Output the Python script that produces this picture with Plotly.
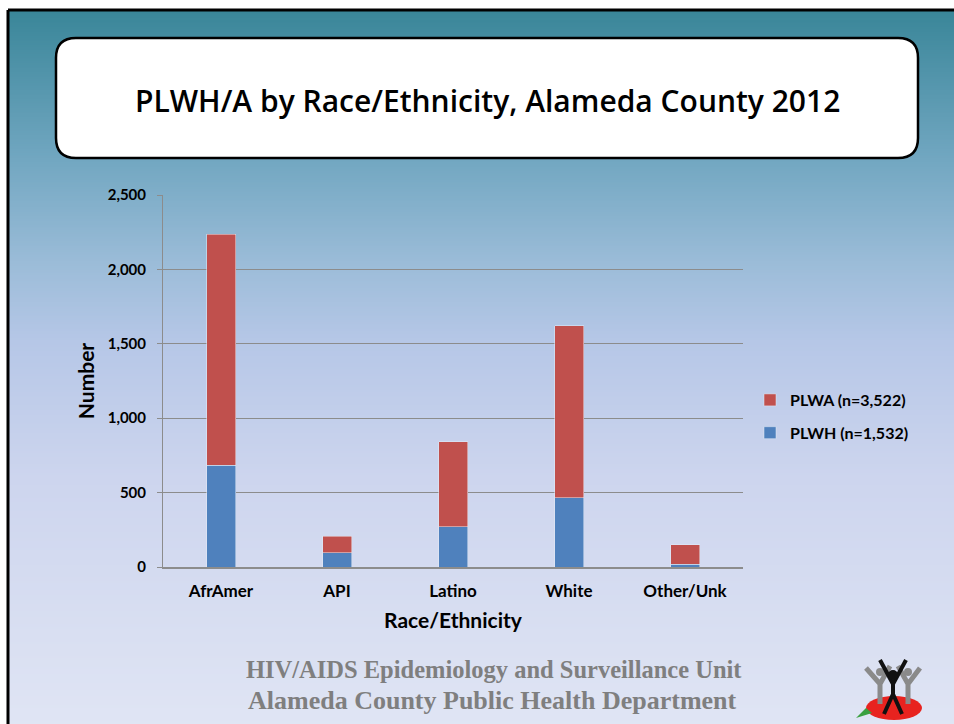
import zlib, struct, base64
import plotly.graph_objects as go

categories = ["AfrAmer", "API", "Latino", "White", "Other/Unk"]
plwh = [683, 95, 270, 464, 20]
plwa = [1552, 111, 572, 1159, 128]
plwh_name = "PLWH (n=1,532)"
plwa_name = "PLWA (n=3,522)"
y_ticks = [0, 500, 1000, 1500, 2000, 2500]

W, H = 954, 724
L, R, T, B = 163, 743, 195, 567

def px(x):
    return (x - L) / (R - L)

def py(y):
    return (B - y) / (B - T)

# gradient png
stops = [(0.0, (58, 134, 153)), (0.2, (112, 166, 192)), (0.35, (155, 188, 216)),
         (0.46, (182, 199, 231)), (0.65, (205, 213, 238)), (1.0, (224, 229, 244))]
def col(t):
    for (t0, c0), (t1, c1) in zip(stops, stops[1:]):
        if t <= t1:
            f = (t - t0) / (t1 - t0)
            return tuple(int(round(a + (b - a) * f)) for a, b in zip(c0, c1))
    return stops[-1][1]
gh = 400
raw = b"".join(b"\x00" + bytes(col(i / (gh - 1))) for i in range(gh))
def chunk(tag, data):
    return struct.pack(">I", len(data)) + tag + data + struct.pack(">I", zlib.crc32(tag + data) & 0xffffffff)
png = b"\x89PNG\r\n\x1a\n" + chunk(b"IHDR", struct.pack(">IIBBBBB", 1, gh, 8, 2, 0, 0, 0)) \
      + chunk(b"IDAT", zlib.compress(raw)) + chunk(b"IEND", b"")
src = "data:image/png;base64," + base64.b64encode(png).decode()

fig = go.Figure()
fig.add_trace(go.Bar(x=categories, y=plwh, name=plwh_name, marker_color="#4f81bd",
                     legendgroup="h", legendrank=2))
fig.add_trace(go.Bar(x=categories, y=plwa, name=plwa_name, marker_color="#c0504d",
                     legendgroup="a", legendrank=1))

def rrect(x0, y0, x1, y1, r):
    pts = [
        f"M {px(x0 + r)},{py(y0)}",
        f"L {px(x1 - r)},{py(y0)}",
        f"Q {px(x1)},{py(y0)} {px(x1)},{py(y0 + r)}",
        f"L {px(x1)},{py(y1 - r)}",
        f"Q {px(x1)},{py(y1)} {px(x1 - r)},{py(y1)}",
        f"L {px(x0 + r)},{py(y1)}",
        f"Q {px(x0)},{py(y1)} {px(x0)},{py(y1 - r)}",
        f"L {px(x0)},{py(y0 + r)}",
        f"Q {px(x0)},{py(y0)} {px(x0 + r)},{py(y0)} Z",
    ]
    return " ".join(pts)

def seg(points):
    return " ".join(("M" if i == 0 else "L") + f" {px(x)},{py(y)}" for i, (x, y) in enumerate(points))

shapes = [
    dict(type="line", xref="paper", yref="paper", x0=px(8), x1=px(W + 5), y0=py(10), y1=py(10),
         line=dict(color="black", width=3)),
    dict(type="line", xref="paper", yref="paper", x0=px(8), x1=px(8), y0=py(10), y1=py(H + 5),
         line=dict(color="black", width=3)),
    dict(type="path", xref="paper", yref="paper", path=rrect(56, 38, 918, 158, 20),
         fillcolor="white", line=dict(color="black", width=2.5)),
    # logo (approximate)
    dict(type="circle", xref="paper", yref="paper", x0=px(866), x1=px(922), y0=py(696), y1=py(720),
         fillcolor="#e8231f", line=dict(width=0)),
    dict(type="path", xref="paper", yref="paper",
         path=seg([(866, 668), (880, 684), (890, 666)]) + " " + seg([(880, 684), (880, 704)]),
         line=dict(color="#8a8a8a", width=5)),
    dict(type="path", xref="paper", yref="paper",
         path=seg([(898, 666), (908, 684), (920, 668)]) + " " + seg([(908, 684), (908, 704)]),
         line=dict(color="#8a8a8a", width=5)),
    dict(type="circle", xref="paper", yref="paper", x0=px(876), x1=px(884), y0=py(668), y1=py(676),
         fillcolor="#8a8a8a", line=dict(width=0)),
    dict(type="circle", xref="paper", yref="paper", x0=px(904), x1=px(912), y0=py(668), y1=py(676),
         fillcolor="#8a8a8a", line=dict(width=0)),
    dict(type="path", xref="paper", yref="paper",
         path=seg([(880, 660), (893, 684), (906, 660)]) + " " + seg([(884, 714), (893, 694), (902, 714)])
              + " " + seg([(893, 684), (893, 694)]),
         line=dict(color="#111111", width=4)),
    dict(type="circle", xref="paper", yref="paper", x0=px(888), x1=px(898), y0=py(670), y1=py(680),
         fillcolor="#111111", line=dict(width=0)),
    dict(type="path", xref="paper", yref="paper",
         path=f"M {px(856)},{py(718)} L {px(866)},{py(708)} L {px(872)},{py(713)} Z",
         fillcolor="#3aa040", line=dict(width=0)),
]

annotations = [
    dict(text="PLWH/A by Race/Ethnicity, Alameda County 2012", xref="paper", yref="paper",
         x=px(487), y=py(100), showarrow=False, xanchor="center", yanchor="middle",
         font=dict(family="Open Sans", size=30, color="black", weight=600)),
    dict(text="HIV/AIDS Epidemiology and Surveillance Unit", xref="paper", yref="paper",
         x=px(494), y=py(669), showarrow=False, xanchor="center", yanchor="middle",
         font=dict(family="Liberation Serif", size=24.5, color="#7f7f7f", weight="bold")),
    dict(text="Alameda County Public Health Department", xref="paper", yref="paper",
         x=px(492), y=py(700), showarrow=False, xanchor="center", yanchor="middle",
         font=dict(family="Liberation Serif", size=26, color="#7f7f7f", weight="bold")),
]

fig.update_layout(
    width=W, height=H,
    margin=dict(l=L, r=W - R, t=T, b=H - B, autoexpand=False),
    paper_bgcolor="white", plot_bgcolor="rgba(0,0,0,0)",
    barmode="stack", bargap=0.75,
    font=dict(family="Lato", color="black"),
    images=[dict(source=src, xref="paper", yref="paper", x=px(8), y=py(10),
                 sizex=px(W + 5) - px(8), sizey=py(10) - py(H + 5), sizing="stretch",
                 xanchor="left", yanchor="top", layer="below")],
    shapes=shapes, annotations=annotations,
    legend=dict(x=px(750), y=py(383), xanchor="left", yanchor="top",
                traceorder="grouped", tracegroupgap=9,
                bgcolor="rgba(0,0,0,0)", font=dict(size=16, weight="bold", color="black"),
                itemwidth=30),
    xaxis=dict(title=dict(text="Race/Ethnicity", font=dict(size=21, weight="bold"), standoff=13),
               tickfont=dict(size=17, weight="bold"), showline=True, linecolor="#8c8c8c",
               linewidth=1.5, ticks="", showgrid=False, ticklabelstandoff=8),
    yaxis=dict(title=dict(text="Number", font=dict(size=21, weight="bold"), standoff=7),
               range=[0, 2500], tickvals=y_ticks, tickformat=",",
               tickfont=dict(size=15, weight="bold"), showline=True, linecolor="#8c8c8c",
               linewidth=1, gridcolor="#8c8c8c", gridwidth=1, ticks="outside", ticklen=5,
               tickcolor="#8c8c8c", zeroline=False, ticklabelstandoff=8),
)

fig.write_html("out.html", config={"displayModeBar": False},
               post_script="document.body.style.margin='0';document.body.style.overflow='hidden';")
